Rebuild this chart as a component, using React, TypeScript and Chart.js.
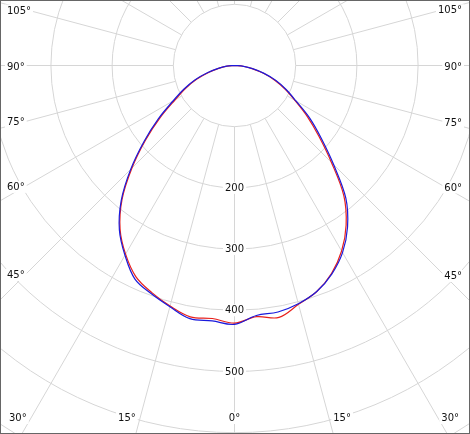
import React, { useEffect, useRef } from "react";
import { Chart, registerables } from "chart.js";

Chart.register(...registerables);

// Gamma angles (degrees from nadir); negative = left half of the diagram
const ANGLES = [
  -90, -85, -80, -75, -70, -65, -60, -55, -50, -45, -40, -35, -30, -25, -20, -15, -10, -5,
  0,
  5, 10, 15, 20, 25, 30, 35, 40, 45, 50, 55, 60, 65, 70, 75, 80, 85, 90,
];

// Luminous intensity (cd) – red curve (C0–C180 plane)
const RED_VALUES = [
  0, 12, 25, 43, 66, 88, 112, 148, 190, 237, 286, 326, 356, 381, 395, 407, 417, 415,
  421,
  412, 418, 404, 393, 375, 350, 318, 278, 224, 180, 145, 114, 91, 70, 49, 29, 14, 0,
];

// Luminous intensity (cd) – blue curve (C90–C270 plane)
const BLUE_VALUES = [
  0, 13, 27, 46, 69, 91, 116, 152, 193, 240, 288, 328, 358, 385, 397, 408, 420, 419,
  423,
  410, 409, 403, 393, 376, 353, 322, 283, 229, 185, 150, 116, 93, 72, 50, 30, 15, 0,
];

const RING_VALUES = [100, 200, 300, 400, 500, 600, 700];
const RING_LABELS = [200, 300, 400, 500];
const SPOKE_STEP = 15;
const SPOKE_START = 100;
const SIDE_LABELS = [105, 90, 75, 60, 45];
const BOTTOM_LABELS = [30, 15, 0];

const X_MIN = -383.2;
const X_MAX = 384.8;
const Y_MIN = -602.1;
const Y_MAX = 107.0;

const W = 470;
const H = 434;
const FONT = '10px "DejaVu Sans", Verdana, sans-serif';
const GRID = "#d6d6d6";
const TEXT = "#111";

function toPoints(values: number[]) {
  return values.map((v, i) => {
    const a = (ANGLES[i] * Math.PI) / 180;
    return { x: v * Math.sin(a), y: -v * Math.cos(a) };
  });
}

function boxedText(ctx: CanvasRenderingContext2D, text: string, x: number, y: number, align: "left" | "right" | "center") {
  const w = ctx.measureText(text).width;
  let left = x;
  if (align === "right") left = x - w;
  if (align === "center") left = x - w / 2;
  ctx.fillStyle = "#ffffff";
  ctx.fillRect(left - 2, y - 6, w + 4, 12);
  ctx.fillStyle = TEXT;
  ctx.textAlign = "left";
  ctx.textBaseline = "middle";
  ctx.fillText(text, left, y + 0.5);
}

const polarGrid = {
  id: "polarGrid",
  beforeDatasetsDraw(chart: any) {
    const { ctx, chartArea, scales } = chart;
    const sx = scales.x;
    const sy = scales.y;
    const cx = sx.getPixelForValue(0);
    const cy = sy.getPixelForValue(0);
    const k = sx.getPixelForValue(100) - cx; // pixels per 100 cd
    ctx.save();
    ctx.beginPath();
    ctx.rect(chartArea.left, chartArea.top, chartArea.right - chartArea.left, chartArea.bottom - chartArea.top);
    ctx.clip();
    ctx.strokeStyle = GRID;
    ctx.lineWidth = 1;
    RING_VALUES.forEach((r) => {
      ctx.beginPath();
      ctx.arc(cx, cy, (r / 100) * k, 0, Math.PI * 2);
      ctx.stroke();
    });
    for (let a = 0; a < 360; a += SPOKE_STEP) {
      const rad = (a * Math.PI) / 180;
      const dx = Math.sin(rad);
      const dy = Math.cos(rad);
      const r0 = (SPOKE_START / 100) * k;
      const r1 = 2000;
      ctx.beginPath();
      ctx.moveTo(cx + dx * r0, cy + dy * r0);
      ctx.lineTo(cx + dx * r1, cy + dy * r1);
      ctx.stroke();
    }
    ctx.font = FONT;
    RING_LABELS.forEach((r) => {
      boxedText(ctx, String(r), cx, cy + (r / 100) * k, "center");
    });
    const w = chartArea.right;
    const h = chartArea.bottom;
    SIDE_LABELS.forEach((a) => {
      const rad = (a * Math.PI) / 180;
      const t = (cx - 26) / Math.sin(rad);
      const y = cy + t * Math.cos(rad) + 1;
      boxedText(ctx, a + "°", 7, y, "left");
      const t2 = (w - 26 - cx) / Math.sin(rad);
      const y2 = cy + t2 * Math.cos(rad) + 1;
      boxedText(ctx, a + "°", w - 8, y2, "right");
    });
    BOTTOM_LABELS.forEach((a) => {
      const rad = (a * Math.PI) / 180;
      const t = (h - cy) / Math.cos(rad);
      const off = t * Math.sin(rad);
      const y = h - 16;
      const text = a + "°";
      const tw = ctx.measureText(text).width;
      if (a === 0) {
        boxedText(ctx, text, cx, y, "center");
      } else {
        const xl = Math.max(9 + tw, cx - off);
        boxedText(ctx, text, xl, y, "right");
        const xr = Math.min(w - 11 - tw, cx + off);
        boxedText(ctx, text, xr, y, "left");
      }
    });
    ctx.restore();
  },
  afterDraw(chart: any) {
    const { ctx } = chart;
    ctx.save();
    ctx.strokeStyle = "#666";
    ctx.lineWidth = 1;
    ctx.strokeRect(0.5, 0.5, chart.width - 1, chart.height - 1);
    ctx.restore();
  },
};

export default function App() {
  const ref = useRef<HTMLCanvasElement | null>(null);
  useEffect(() => {
    if (!ref.current) return;
    const chart = new Chart(ref.current, {
      type: "scatter",
      data: {
        datasets: [
          {
            label: "C90-C270",
            data: toPoints(BLUE_VALUES),
            borderColor: "#1a1adc",
            borderWidth: 1.2,
            pointRadius: 0,
            showLine: true,
            tension: 0.35,
            fill: false,
          },
          {
            label: "C0-C180",
            data: toPoints(RED_VALUES),
            borderColor: "#e8201c",
            borderWidth: 1.2,
            pointRadius: 0,
            showLine: true,
            tension: 0.35,
            fill: false,
          },
        ],
      },
      options: {
        responsive: false,
        animation: false,
        devicePixelRatio: 1,
        layout: { padding: 0 },
        plugins: { legend: { display: false }, tooltip: { enabled: false } },
        scales: {
          x: { type: "linear", min: X_MIN, max: X_MAX, display: false },
          y: { type: "linear", min: Y_MIN, max: Y_MAX, display: false },
        },
      },
      plugins: [polarGrid],
    });
    return () => chart.destroy();
  }, []);
  return (
    <div style={{ position: "fixed", left: 0, top: 0, width: W, height: H, background: "#fff" }}>
      <canvas ref={ref} width={W} height={H} />
    </div>
  );
}
